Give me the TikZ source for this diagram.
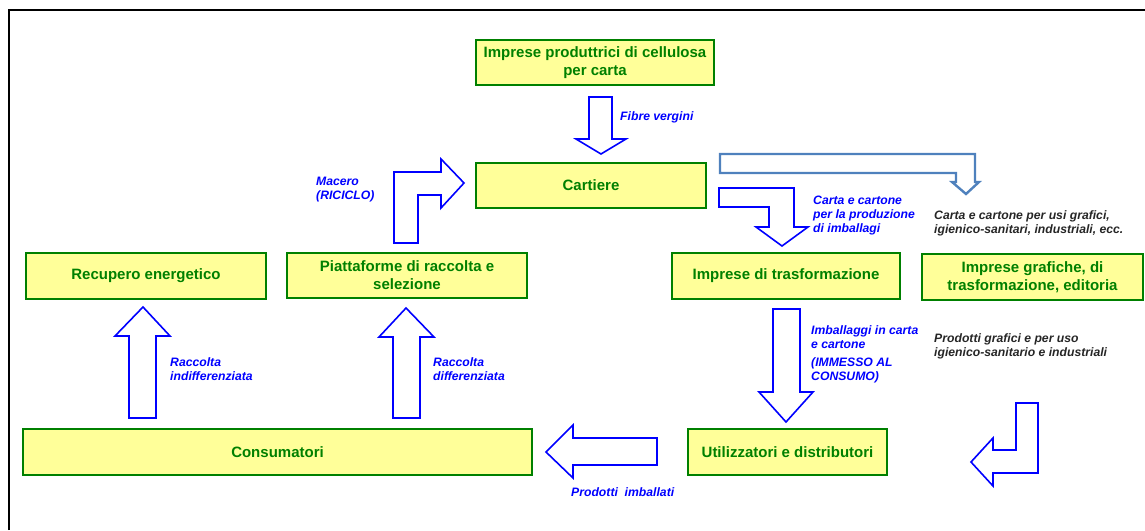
\documentclass[tikz,border=0pt]{standalone}
\usepackage{fontspec}
\setmainfont{Liberation Sans}
\definecolor{boxfill}{RGB}{255,255,153}
\definecolor{boxgreen}{RGB}{0,128,0}
\definecolor{flowblue}{RGB}{0,0,255}
\definecolor{steelblue}{RGB}{79,129,189}
\tikzset{
  box/.style={draw=boxgreen, fill=boxfill, line width=2pt, text=boxgreen, inner sep=0pt, outer sep=0pt,
    align=center, font=\fontsize{15}{18}\selectfont\bfseries},
  flow/.style={draw=flowblue, fill=white, line width=1.6pt, line join=miter},
  flowgrey/.style={draw=steelblue, fill=white, line width=2.4pt, line join=miter},
  lab/.style={anchor=base west, inner sep=0pt, align=left, text=flowblue,
    font=\fontsize{12.2}{14}\selectfont\bfseries\itshape},
  note/.style={lab, text=black!85}
}
\begin{document}
\begin{tikzpicture}[x=1pt,y=-1pt]
        \useasboundingbox (0,0) rectangle (1145,530);
        \draw[line width=2.6pt] (9,530) -- (9,10) -- (1145,10);
        \node[box, minimum width=238pt, minimum height=45pt] (cellulosa) at (595,62.5) {Imprese produttrici di cellulosa\\per carta};
        \node[box, minimum width=230pt, minimum height=45pt] (cartiere) at (591,185.5) {Cartiere};
        \node[box, minimum width=240pt, minimum height=46pt] (recupero) at (146,276) {Recupero energetico};
        \node[box, minimum width=240pt, minimum height=45pt] (piattaforme) at (407,275.5) {Piattaforme di raccolta e\\selezione};
        \node[box, minimum width=228pt, minimum height=46pt] (trasformazione) at (786,276) {Imprese di trasformazione};
        \node[box, minimum width=221pt, minimum height=46pt] (grafiche) at (1032.5,277) {Imprese grafiche, di\\trasformazione, editoria};
        \node[box, minimum width=509pt, minimum height=46pt] (consumatori) at (277.5,452) {Consumatori};
        \node[box, minimum width=199pt, minimum height=46pt] (utilizzatori) at (787.5,452) {Utilizzatori e distributori};
        \draw[flow] (589,97) -- (612,97) -- (612,139) -- (626,139) -- (601,154) -- (576,139) -- (589,139) -- cycle;
        \draw[flow] (394,243) -- (394,172) -- (441,172) -- (441,159) -- (464,183) -- (441,208) -- (441,195) -- (418,195) -- (418,243) -- cycle;
        \draw[flow] (129,418) -- (129,336) -- (115,336) -- (143,307) -- (170,336) -- (156,336) -- (156,418) -- cycle;
        \draw[flow] (393,418) -- (393,337) -- (379,337) -- (406,308) -- (434,337) -- (420,337) -- (420,418) -- cycle;
        \draw[flow] (657,438) -- (573,438) -- (573,425) -- (546,452) -- (573,478) -- (573,465) -- (657,465) -- cycle;
        \draw[flow] (773,309) -- (800,309) -- (800,392) -- (813,392) -- (786,422) -- (759,392) -- (773,392) -- cycle;
        \draw[flow] (719,188) -- (794,188) -- (794,227) -- (808,227) -- (782,246) -- (756,227) -- (769,227) -- (769,207) -- (719,207) -- cycle;
        \draw[flow] (1016,403) -- (1038,403) -- (1038,473) -- (993,473) -- (993,486) -- (971,462) -- (993,438) -- (993,450) -- (1016,450) -- cycle;
        \draw[flowgrey] (720,154) -- (975,154) -- (975,182) -- (979,182) -- (966,194) -- (952,182) -- (956,182) -- (956,173) -- (720,173) -- cycle;
        \node[lab] (fibre) at (620,120) {Fibre vergini};
        \node[lab] (macero) at (316,199) {Macero\\(RICICLO)};
        \node[lab] (indiff) at (170,380) {Raccolta\\indifferenziata};
        \node[lab] (diff) at (433,380) {Raccolta\\differenziata};
        \node[lab] (prodotti) at (571,496) {Prodotti\ \ imballati};
        \node[lab] (imballagi) at (813,232) {Carta e cartone\\per la produzione\\di imballagi};
        \node[lab] (immesso) at (811,380) {Imballaggi in carta\\e cartone\\[4pt](IMMESSO AL\\CONSUMO)};
        \node[note] (usi) at (934,233) {Carta e cartone per usi grafici,\\igienico-sanitari, industriali, ecc.};
        \node[note] (uso) at (934,356) {Prodotti grafici e per uso\\igienico-sanitario e industriali};
    \end{tikzpicture}
\end{document}
